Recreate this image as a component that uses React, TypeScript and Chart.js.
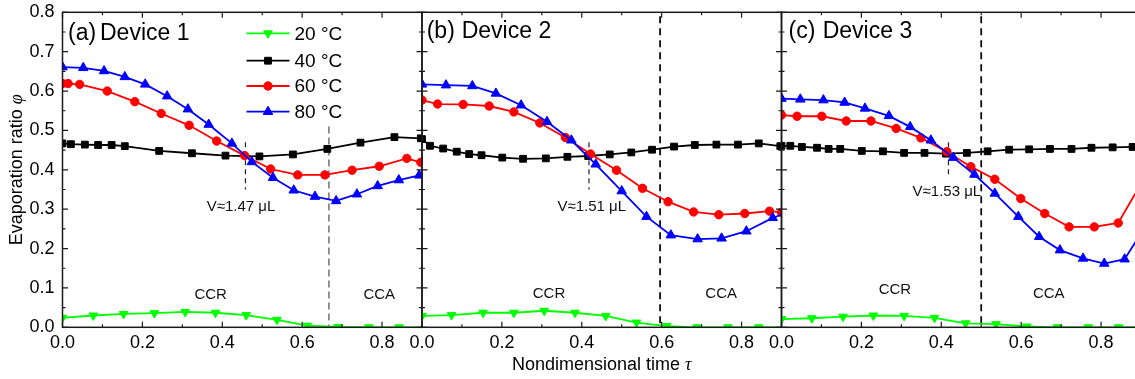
import React, { useEffect, useRef } from 'react';
import { Chart, registerables } from 'chart.js';

Chart.register(...registerables);

type Pt = [number, number]; // [τ, φ]

// ---- Device 1 ----
const dev1_20C: Pt[] = [[0, 0.024], [0.077, 0.030], [0.153, 0.034], [0.230, 0.036], [0.307, 0.039], [0.383, 0.037], [0.460, 0.031], [0.537, 0.019], [0.613, 0.004], [0.690, 0.001], [0.767, 0.0], [0.843, 0.0], [0.920, 0.0]];
const dev1_40C: Pt[] = [[0, 0.467], [0.021, 0.465], [0.056, 0.464], [0.089, 0.463], [0.123, 0.463], [0.156, 0.460], [0.242, 0.448], [0.324, 0.442], [0.408, 0.436], [0.493, 0.434], [0.577, 0.439], [0.663, 0.453], [0.746, 0.469], [0.831, 0.483], [0.897, 0.480]];
const dev1_60C: Pt[] = [[0, 0.619], [0.014, 0.619], [0.043, 0.617], [0.112, 0.600], [0.181, 0.573], [0.247, 0.543], [0.317, 0.513], [0.386, 0.473], [0.456, 0.436], [0.521, 0.402], [0.589, 0.387], [0.657, 0.387], [0.725, 0.399], [0.793, 0.409], [0.862, 0.429], [0.897, 0.419]];
const dev1_80C: Pt[] = [[0, 0.661], [0.052, 0.659], [0.104, 0.651], [0.156, 0.636], [0.207, 0.617], [0.262, 0.587], [0.314, 0.554], [0.366, 0.515], [0.424, 0.467], [0.474, 0.420], [0.527, 0.380], [0.579, 0.348], [0.632, 0.332], [0.685, 0.321], [0.737, 0.338], [0.789, 0.359], [0.842, 0.374], [0.893, 0.386]];

// ---- Device 2 ----
const dev2_20C: Pt[] = [[0, 0.029], [0.074, 0.031], [0.153, 0.037], [0.230, 0.037], [0.306, 0.042], [0.383, 0.037], [0.460, 0.029], [0.537, 0.012], [0.613, 0.003], [0.689, 0.0], [0.766, 0.0], [0.843, 0.0], [0.920, 0.0]];
const dev2_40C: Pt[] = [[0, 0.478], [0.020, 0.461], [0.053, 0.454], [0.087, 0.446], [0.118, 0.440], [0.149, 0.437], [0.201, 0.431], [0.253, 0.428], [0.310, 0.429], [0.364, 0.433], [0.416, 0.435], [0.470, 0.439], [0.524, 0.444], [0.576, 0.451], [0.631, 0.459], [0.683, 0.463], [0.737, 0.464], [0.791, 0.464], [0.843, 0.467], [0.897, 0.460]];
const dev2_60C: Pt[] = [[0, 0.577], [0.039, 0.567], [0.103, 0.566], [0.168, 0.562], [0.230, 0.547], [0.295, 0.519], [0.359, 0.482], [0.422, 0.440], [0.487, 0.399], [0.552, 0.353], [0.616, 0.319], [0.680, 0.293], [0.743, 0.286], [0.808, 0.289], [0.870, 0.295], [0.900, 0.292]];
const dev2_80C: Pt[] = [[0, 0.617], [0.060, 0.615], [0.126, 0.613], [0.185, 0.594], [0.248, 0.564], [0.313, 0.522], [0.374, 0.475], [0.435, 0.414], [0.500, 0.346], [0.562, 0.281], [0.623, 0.234], [0.690, 0.224], [0.750, 0.226], [0.812, 0.244], [0.878, 0.278], [0.940, 0.300]];

// ---- Device 3 ----
const dev3_20C: Pt[] = [[0, 0.021], [0.076, 0.023], [0.154, 0.027], [0.230, 0.030], [0.307, 0.029], [0.383, 0.024], [0.461, 0.010], [0.537, 0.008], [0.614, 0.002], [0.691, 0.0], [0.768, 0.0], [0.844, 0.0], [0.920, 0.0]];
const dev3_40C: Pt[] = [[0, 0.461], [0.022, 0.461], [0.051, 0.458], [0.089, 0.456], [0.118, 0.453], [0.147, 0.453], [0.201, 0.448], [0.254, 0.447], [0.307, 0.443], [0.358, 0.443], [0.412, 0.441], [0.464, 0.443], [0.516, 0.447], [0.570, 0.451], [0.620, 0.452], [0.672, 0.453], [0.726, 0.453], [0.776, 0.456], [0.829, 0.457], [0.879, 0.458], [0.930, 0.459]];
const dev3_60C: Pt[] = [[0, 0.539], [0.039, 0.536], [0.101, 0.536], [0.162, 0.524], [0.224, 0.524], [0.287, 0.505], [0.349, 0.481], [0.414, 0.446], [0.474, 0.408], [0.534, 0.376], [0.599, 0.327], [0.659, 0.289], [0.720, 0.255], [0.783, 0.255], [0.843, 0.265], [0.903, 0.370]];
const dev3_80C: Pt[] = [[0, 0.581], [0.047, 0.579], [0.105, 0.577], [0.158, 0.571], [0.209, 0.556], [0.269, 0.537], [0.322, 0.509], [0.374, 0.475], [0.430, 0.431], [0.483, 0.388], [0.534, 0.340], [0.593, 0.281], [0.645, 0.230], [0.697, 0.196], [0.755, 0.175], [0.808, 0.162], [0.859, 0.173], [0.910, 0.255]];

const SERIES_LABELS = ['20 °C', '40 °C', '60 °C', '80 °C'];
const X_TICKS = [0, 0.2, 0.4, 0.6, 0.8];
const X_MINOR_TICKS = [0.1, 0.3, 0.5, 0.7];
const Y_TICKS = [0, 0.1, 0.2, 0.3, 0.4, 0.5, 0.6, 0.7, 0.8];
const Y_MINOR_TICKS = [0.05, 0.15, 0.25, 0.35, 0.45, 0.55, 0.65, 0.75];

const SERIES_STYLE = [
  { color: '#00ff00', pointStyle: 'triangle', rotation: 180, radius: 5 },
  { color: '#000000', pointStyle: 'rect', rotation: 0, radius: 4.8 },
  { color: '#ff0000', pointStyle: 'circle', rotation: 0, radius: 4.2 },
  { color: '#0000ff', pointStyle: 'triangle', rotation: 0, radius: 5.5 },
];
const DRAW_ORDER = [3, 2, 1, 0];

const SANS = '"Liberation Sans", Arial, sans-serif';
const SERIF = '"Liberation Serif", "DejaVu Serif", serif';
const AXIS_COLOR = '#1a1a1a';
const CANVAS_H = 379;
const PLOT_TOP = 12.3;
const PLOT_BOTTOM = 327.3;

interface VLine { x: number; from: number; to: number; color: string; width: number; dash: number[] }
interface Panel {
  canvasLeft: number; canvasWidth: number; padLeft: number; padRight: number;
  yLabels: boolean; xTitle: boolean; legend: boolean;
  series: Pt[][];
  tag: string; name: string; tagDx: number; nameDx: number; titleY: number;
  volume: string; volumeAt: Pt; ccrAt: Pt; ccaAt: Pt;
  lines: VLine[];
}

const PANELS: Panel[] = [
  {
    canvasLeft: 0, canvasWidth: 430, padLeft: 0, padRight: 8,
    yLabels: true, xTitle: false, legend: true,
    series: [dev1_20C, dev1_40C, dev1_60C, dev1_80C],
    tag: '(a)', name: 'Device 1', tagDx: 5.5, nameDx: 37.5, titleY: 34,
    volume: 'V≈1.47 μL', volumeAt: [0.447, 0.306], ccrAt: [0.371, 0.082], ccaAt: [0.793, 0.082],
    lines: [
      { x: 0.458, from: 0.47, to: 0.35, color: '#222', width: 1.2, dash: [5, 4] },
      { x: 0.667, from: 0.51, to: 0, color: '#666', width: 1.4, dash: [7, 4] },
    ],
  },
  {
    canvasLeft: 402, canvasWidth: 388, padLeft: 20, padRight: 8.5,
    yLabels: false, xTitle: true, legend: false,
    series: [dev2_20C, dev2_40C, dev2_60C, dev2_80C],
    tag: '(b)', name: 'Device 2', tagDx: 4.7, nameDx: 39.7, titleY: 32,
    volume: 'V≈1.51 μL', volumeAt: [0.425, 0.306], ccrAt: [0.318, 0.086], ccaAt: [0.749, 0.086],
    lines: [
      { x: 0.418, from: 0.47, to: 0.35, color: '#222', width: 1.2, dash: [5, 4] },
      { x: 0.596, from: 0.79, to: 0, color: '#000', width: 1.7, dash: [7, 5] },
    ],
  },
  {
    canvasLeft: 761, canvasWidth: 388, padLeft: 20.5, padRight: 8,
    yLabels: false, xTitle: false, legend: false,
    series: [dev3_20C, dev3_40C, dev3_60C, dev3_80C],
    tag: '(c)', name: 'Device 3', tagDx: 7, nameDx: 41.2, titleY: 32,
    volume: 'V≈1.53 μL', volumeAt: [0.414, 0.344], ccrAt: [0.284, 0.095], ccaAt: [0.669, 0.086],
    lines: [
      { x: 0.418, from: 0.47, to: 0.38, color: '#222', width: 1.2, dash: [5, 4] },
      { x: 0.5, from: 0.79, to: 0, color: '#000', width: 1.7, dash: [7, 5] },
    ],
  },
];

function drawMarker(ctx: CanvasRenderingContext2D, s: typeof SERIES_STYLE[number], x: number, y: number) {
  const r = s.radius;
  ctx.beginPath();
  if (s.pointStyle === 'circle') {
    ctx.arc(x, y, r, 0, Math.PI * 2);
  } else if (s.pointStyle === 'rect') {
    const h = r * Math.SQRT1_2;
    ctx.rect(x - h, y - h, 2 * h, 2 * h);
  } else {
    let a = (s.rotation * Math.PI) / 180;
    ctx.moveTo(x + Math.sin(a) * r, y - Math.cos(a) * r);
    a += (2 * Math.PI) / 3;
    ctx.lineTo(x + Math.sin(a) * r, y - Math.cos(a) * r);
    a += (2 * Math.PI) / 3;
    ctx.lineTo(x + Math.sin(a) * r, y - Math.cos(a) * r);
    ctx.closePath();
  }
  ctx.fill();
  ctx.stroke();
}

// Draws a label made of a sans part followed by an italic serif symbol, centred at (0,0).
function drawMixedLabel(ctx: CanvasRenderingContext2D, main: string, sym: string, size: number) {
  ctx.font = `${size}px ${SANS}`;
  const w1 = ctx.measureText(main).width;
  ctx.font = `italic ${size}px ${SERIF}`;
  const w2 = ctx.measureText(sym).width;
  const start = -(w1 + w2) / 2;
  ctx.textAlign = 'left';
  ctx.textBaseline = 'middle';
  ctx.font = `${size}px ${SANS}`;
  ctx.fillText(main, start, 0);
  ctx.font = `italic ${size}px ${SERIF}`;
  ctx.fillText(sym, start + w1, 0);
}

function makeDecor(p: Panel) {
  return {
    id: 'panelDecor',
    beforeDatasetsDraw(chart: Chart) {
      const { ctx } = chart;
      const xs = chart.scales.x;
      const ys = chart.scales.y;
      ctx.save();
      for (const l of p.lines) {
        const px = xs.getPixelForValue(l.x);
        ctx.strokeStyle = l.color;
        ctx.lineWidth = l.width;
        ctx.setLineDash(l.dash);
        ctx.beginPath();
        ctx.moveTo(px, ys.getPixelForValue(l.from));
        ctx.lineTo(px, ys.getPixelForValue(l.to));
        ctx.stroke();
      }
      ctx.restore();
    },
    afterDraw(chart: Chart) {
      const { ctx, chartArea } = chart;
      const { left, right, top, bottom } = chartArea;
      const xs = chart.scales.x;
      const ys = chart.scales.y;
      ctx.save();

      // frame
      ctx.strokeStyle = AXIS_COLOR;
      ctx.lineWidth = 1.5;
      ctx.setLineDash([]);
      ctx.strokeRect(left, top, right - left, bottom - top);

      // inward tick marks on all four sides
      ctx.lineWidth = 1.2;
      ctx.beginPath();
      const xMarks = [...X_TICKS.map((v) => [v, 5.5]), ...X_MINOR_TICKS.map((v) => [v, 3])];
      for (const [v, len] of xMarks) {
        const px = xs.getPixelForValue(v);
        ctx.moveTo(px, bottom);
        ctx.lineTo(px, bottom - len);
        ctx.moveTo(px, top);
        ctx.lineTo(px, top + len);
      }
      const yMarks = [...Y_TICKS.map((v) => [v, 5.5]), ...Y_MINOR_TICKS.map((v) => [v, 3])];
      for (const [v, len] of yMarks) {
        const py = ys.getPixelForValue(v);
        ctx.moveTo(left, py);
        ctx.lineTo(left + len, py);
        ctx.moveTo(right, py);
        ctx.lineTo(right - len, py);
      }
      ctx.stroke();

      // panel heading
      ctx.fillStyle = '#000';
      ctx.textBaseline = 'middle';
      ctx.textAlign = 'left';
      ctx.font = `23px ${SANS}`;
      ctx.fillText(p.tag, left + p.tagDx, p.titleY);
      ctx.fillText(p.name, left + p.nameDx, p.titleY);

      // annotations
      ctx.font = `15px ${SANS}`;
      ctx.textAlign = 'center';
      ctx.fillStyle = '#111';
      const put = (t: string, at: Pt) => ctx.fillText(t, xs.getPixelForValue(at[0]), ys.getPixelForValue(at[1]));
      put(p.volume, p.volumeAt);
      put('CCR', p.ccrAt);
      put('CCA', p.ccaAt);

      // axis titles
      ctx.fillStyle = '#000';
      if (p.yLabels) {
        ctx.save();
        ctx.translate(17.5, (top + bottom) / 2);
        ctx.rotate(-Math.PI / 2);
        drawMixedLabel(ctx, 'Evaporation ratio ', 'φ', 18);
        ctx.restore();
      }
      if (p.xTitle) {
        ctx.save();
        ctx.translate((left + right) / 2, 365);
        drawMixedLabel(ctx, 'Nondimensional time ', 'τ', 18);
        ctx.restore();
      }

      // legend
      if (p.legend) {
        const rows = [33.3, 60.7, 86, 111.7];
        SERIES_LABELS.forEach((label, i) => {
          const s = SERIES_STYLE[i];
          const y = rows[i];
          ctx.strokeStyle = s.color;
          ctx.fillStyle = s.color;
          ctx.lineWidth = 1.8;
          ctx.beginPath();
          ctx.moveTo(246.5, y);
          ctx.lineTo(289.5, y);
          ctx.stroke();
          ctx.lineWidth = 1;
          drawMarker(ctx, s, 268, y);
          ctx.fillStyle = '#000';
          ctx.font = `19px ${SANS}`;
          ctx.textAlign = 'left';
          ctx.textBaseline = 'middle';
          ctx.fillText(label, 294.5, y + 1);
        });
      }
      ctx.restore();
    },
  };
}

function PanelChart({ panel }: { panel: Panel }) {
  const ref = useRef<HTMLCanvasElement | null>(null);

  useEffect(() => {
    const canvas = ref.current;
    if (!canvas) return;
    const tickFont = { family: SANS, size: 18 };
    // invisible tick marks only reserve the gap between axis and labels
    const hiddenGrid = (len: number) => ({
      display: true,
      drawOnChartArea: false,
      drawTicks: true,
      tickLength: len,
      color: 'rgba(0,0,0,0)',
    });
    const chart = new Chart(canvas, {
      type: 'line',
      data: {
        datasets: panel.series.map((pts, i) => {
          const s = SERIES_STYLE[i];
          return {
            label: SERIES_LABELS[i],
            data: pts.map(([x, y]) => ({ x, y })),
            borderColor: s.color,
            backgroundColor: s.color,
            borderWidth: 1.8,
            pointStyle: s.pointStyle as any,
            pointRotation: s.rotation,
            pointRadius: s.radius,
            pointBorderWidth: 1,
            pointBackgroundColor: s.color,
            pointBorderColor: s.color,
            tension: 0,
            order: DRAW_ORDER[i],
          };
        }),
      },
      options: {
        animation: false,
        responsive: false,
        events: [],
        layout: { padding: { left: panel.padLeft, right: panel.padRight, top: PLOT_TOP, bottom: 0 } },
        plugins: { legend: { display: false }, tooltip: { enabled: false } },
        scales: {
          x: {
            type: 'linear',
            min: 0,
            max: 0.9,
            afterBuildTicks: (s: any) => { s.ticks = X_TICKS.map((v) => ({ value: v })); },
            afterFit: (s: any) => { s.height = CANVAS_H - PLOT_BOTTOM; },
            grid: hiddenGrid(5),
            border: { display: false },
            ticks: {
              padding: 0,
              autoSkip: false,
              maxRotation: 0,
              color: '#000',
              font: tickFont,
              callback: (v: any) => Number(v).toFixed(1),
            },
          },
          y: {
            type: 'linear',
            min: 0,
            max: 0.8,
            display: panel.yLabels,
            afterBuildTicks: (s: any) => { s.ticks = Y_TICKS.map((v) => ({ value: v })); },
            afterFit: (s: any) => { if (panel.yLabels) s.width = 62.5; },
            grid: hiddenGrid(8),
            border: { display: false },
            ticks: {
              padding: 0,
              color: '#000',
              font: tickFont,
              callback: (v: any) => Number(v).toFixed(1),
            },
          },
        },
      },
      plugins: [makeDecor(panel)],
    });
    return () => chart.destroy();
  }, [panel]);

  return (
    <canvas
      ref={ref}
      width={panel.canvasWidth}
      height={CANVAS_H}
      style={{ position: 'absolute', left: panel.canvasLeft, top: 0, width: panel.canvasWidth, height: CANVAS_H }}
    />
  );
}

export default function App() {
  return (
    <div
      style={{
        position: 'fixed',
        left: 0,
        top: 0,
        width: 1135,
        height: CANVAS_H,
        overflow: 'hidden',
        background: '#fff',
      }}
    >
      {PANELS.map((p, i) => (
        <PanelChart key={i} panel={p} />
      ))}
    </div>
  );
}
